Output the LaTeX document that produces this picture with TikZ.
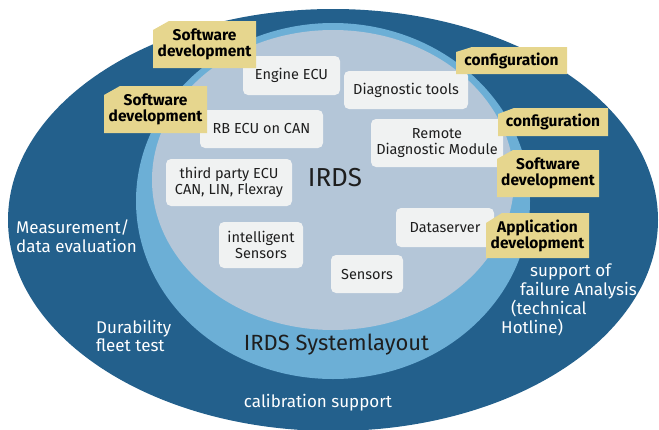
\documentclass[tikz,border=0pt]{standalone}
\usepackage{fontspec}
\setmainfont{Fira Sans}
\definecolor{darkb}{HTML}{23608C}
\definecolor{lightb}{HTML}{6CAFD6}
\definecolor{greyb}{HTML}{B4C6D8}
\definecolor{boxfill}{HTML}{F0F2F2}
\definecolor{labfill}{HTML}{E6D68E}
\definecolor{txt}{HTML}{1E1E1E}
\newcommand{\chlab}[7]{%
  \fill[labfill] ({#2-#4/2},{#3-#5/2+#7}) -- ({#2-#4/2+16},{#3-#5/2}) -- ({#2+#4/2},{#3-#5/2}) -- ({#2+#4/2},{#3+#5/2}) -- ({#2-#4/2},{#3+#5/2}) -- cycle;
  \node[labtext, minimum width=#4pt, minimum height=#5pt] (#1) at (#2,#3) {#6};}
\begin{document}
\begin{tikzpicture}[x=1pt,y=-1pt,
  wbox/.style={fill=boxfill, rounded corners=5pt, inner sep=0pt, align=center, text=txt,
    font=\fontsize{14.5}{16}\selectfont},
  labtext/.style={inner sep=0pt, align=center, text=black,
    font=\bfseries\fontsize{15.5}{16}\selectfont},
  ringtext/.style={text=white, inner sep=0pt, align=left, font=\fontsize{17}{18.5}\selectfont},
  bigtext/.style={text=txt, inner sep=0pt, font=\fontsize{22}{24}\selectfont}]
\useasboundingbox (0,0) rectangle (659,429);
\clip (0,0) rectangle (659,429);
% rings
\fill[darkb] (333,220) ellipse [x radius=325pt, y radius=211pt];
\fill[lightb] (333,201) ellipse [x radius=197pt, y radius=178pt];
\fill[greyb] (333,180) ellipse [x radius=181pt, y radius=150pt];
% white boxes
\node[wbox, minimum width=97pt, minimum height=39pt] (engine) at (291.5,75.5) {Engine ECU};
\node[wbox, minimum width=124pt, minimum height=38pt] (diag) at (406,90) {Diagnostic tools};
\node[wbox, minimum width=123pt, minimum height=38pt] (rbecu) at (261.5,129) {RB ECU on CAN};
\node[wbox, minimum width=132pt, minimum height=48pt] (remote) at (437,143) {Remote\\Diagnostic Module};
\node[wbox, minimum width=126pt, minimum height=47pt] (third) at (229,182.5) {third party ECU\\CAN, LIN, Flexray};
\node[wbox, minimum width=84pt, minimum height=46pt] (intel) at (261,245) {intelligent\\Sensors};
\node[wbox, minimum width=98pt, minimum height=39pt] (dataserver) at (445,227.5) {Dataserver};
\node[wbox, minimum width=72pt, minimum height=38pt] (sensors) at (367,274) {Sensors};
% labels
\chlab{swa}{204.5}{44.5}{103}{47}{Software\\development}{9}
\chlab{swb}{155.5}{109.5}{103}{47}{Software\\development}{9}
\chlab{confa}{511.5}{60.5}{111}{27}{configuration}{5}
\chlab{confb}{553}{122}{110}{28}{configuration}{6}
\chlab{swc}{548}{173.5}{102}{47}{Software\\development}{9}
\chlab{appdev}{537.5}{235.5}{103}{45}{Application\\development}{10}
% titles
\node[bigtext, font=\fontsize{26}{28}\selectfont] (irds) at (335,178) {IRDS};
\node[bigtext] (syslayout) at (336.5,345) {IRDS Systemlayout};
% ring texts
\node[ringtext, anchor=west] (meas) at (16,236) {Measurement/\\data evaluation};
\node[ringtext, anchor=west] (dur) at (96,336) {Durability\\fleet test};
\node[ringtext, anchor=center] (calib) at (318,403) {calibration support};
\node[ringtext, anchor=west, font=\fontsize{17}{19}\selectfont] (failure) at (501,300)
  {\hspace*{29pt}support of\\\hspace*{19pt}failure Analysis\\\hspace*{10pt}(technical\\Hotline)};
\end{tikzpicture}
\end{document}
